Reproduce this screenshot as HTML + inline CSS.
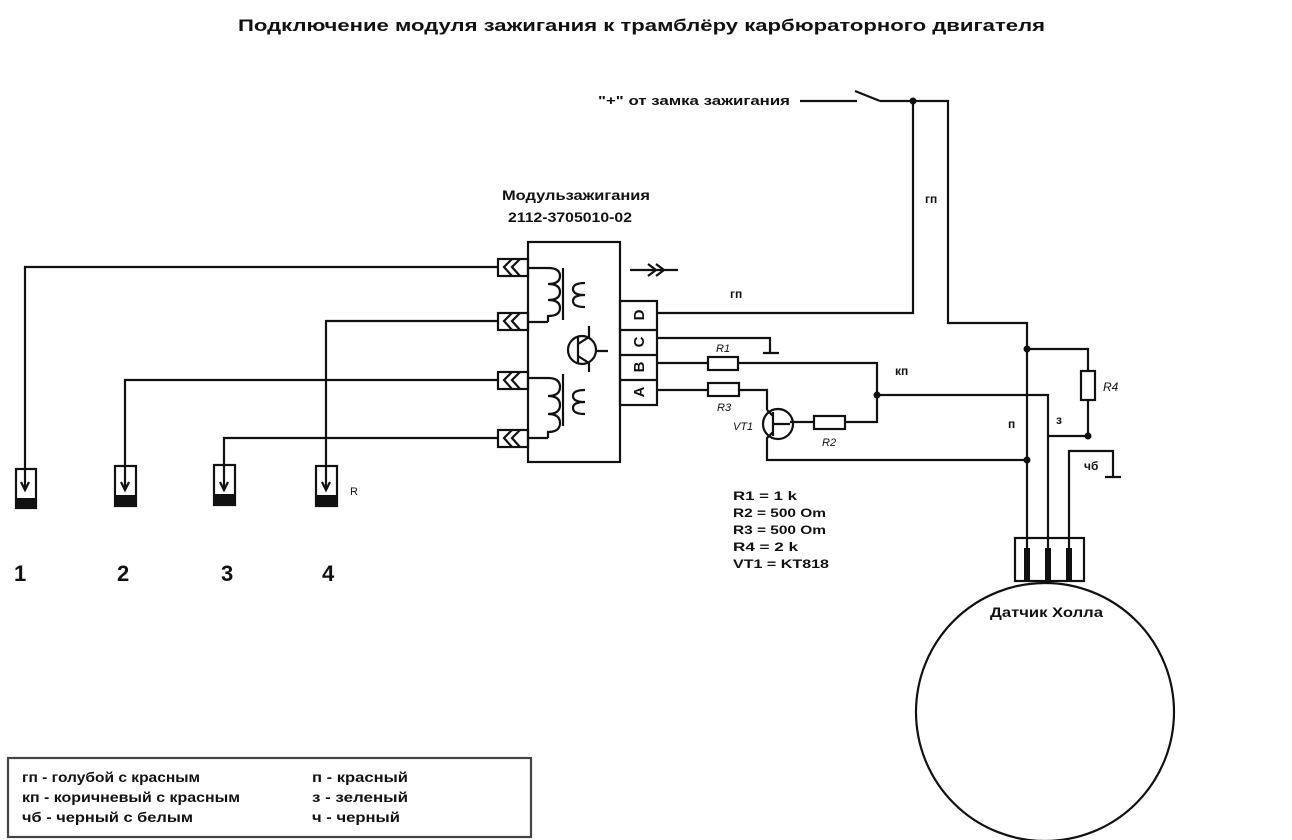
<!DOCTYPE html>
<html><head><meta charset="utf-8"><style>
html,body{margin:0;padding:0;background:#fff;}
svg{display:block;}
text{font-family:"Liberation Sans","DejaVu Sans",sans-serif;fill:#111;}
.b{font-weight:bold;}
</style></head><body>
<svg width="1292" height="840" viewBox="0 0 1292 840" xmlns="http://www.w3.org/2000/svg">
<g stroke="#111" stroke-width="2.2" fill="none">
<path d="M800 101H857 M855 91L880 101 M880 101H948V323H1027V580"/>
<path d="M913 101V313H657"/>
<rect x="528" y="242" width="92" height="220"/>
<rect x="620" y="301" width="37" height="104"/>
<path d="M620 330H657 M620 355H657 M620 380H657"/>
<rect x="498" y="259" width="30" height="17"/>
<rect x="498" y="313" width="30" height="17"/>
<rect x="498" y="372" width="30" height="17"/>
<rect x="498" y="430" width="30" height="17"/>
<path d="M512 259L504 267L512 276 M520 259L512 267L520 276"/>
<path d="M512 313L504 321L512 330 M520 313L512 321L520 330"/>
<path d="M512 372L504 380L512 389 M520 372L512 380L520 389"/>
<path d="M512 430L504 438L512 447 M520 430L512 438L520 447"/>
<path d="M528 268H548 M528 322H548"/>
<path d="M548 268 q12 0 12 8 q0 8 -12 8 q12 0 12 8 q0 8 -12 8 q12 0 12 8 q0 8 -12 8 V322"/>
<path d="M563 268V320 M563 374V426"/>
<path d="M585 283 q-12 0 -12 6 q0 6 12 6 q-12 0 -12 6 q0 6 12 6"/>
<path d="M528 378H548 M528 438H548"/>
<path d="M548 378 q12 0 12 9 q0 9 -12 9 q12 0 12 9 q0 9 -12 9 q12 0 12 9 q0 9 -12 9 V438"/>
<path d="M585 390 q-12 0 -12 6 q0 6 12 6 q-12 0 -12 6 q0 6 12 6"/>
<circle cx="582" cy="350" r="14"/>
<path d="M578 336V364 M578 344L589 337V326 M578 356L589 363V372 M596 351H608"/>
<path d="M630 270H678 M648 264L656 270L648 276 M656 264L664 270L656 276"/>
<path d="M657 338H770V352 M763 353H779"/>
<path d="M657 363H708 M738 363H877V422H845 M814 422H790"/>
<rect x="708" y="357" width="30" height="13"/>
<rect x="814" y="416" width="31" height="13"/>
<path d="M657 390H708 M739 390H767V410"/>
<rect x="708" y="383" width="31" height="13"/>
<circle cx="778" cy="424" r="15"/>
<path d="M773 412V436 M773 416L767 410 M773 432L767 438V460H1027 M773 424H790"/>
<path d="M877 395H1048V580"/>
<path d="M1027 349H1088V371 M1088 400V436H1048"/>
<rect x="1081" y="371" width="14" height="29"/>
<path d="M1069 580V451H1113V476 M1105 477H1121"/>
<rect x="1015" y="538" width="69" height="43"/>
<circle cx="1045" cy="712" r="129"/>
<path d="M498 267H25V490 M498 321H326V490 M498 380H125V490 M498 438H224V490"/>
<path d="M21 482L25 490L29 482 M121 482L125 490L129 482 M220 482L224 490L228 482 M322 482L326 490L330 482"/>
<rect x="16" y="469" width="20" height="39"/>
<rect x="115" y="466" width="21" height="40"/>
<rect x="214" y="465" width="21" height="40"/>
<rect x="316" y="466" width="21" height="40"/>
<rect x="8" y="758" width="523" height="79" stroke="#444"/>
</g>
<g fill="#111">
<rect x="16" y="498" width="20" height="10"/>
<rect x="115" y="495" width="21" height="11"/>
<rect x="214" y="494" width="21" height="11"/>
<rect x="316" y="495" width="21" height="11"/>
<rect x="1024" y="548" width="6" height="33"/>
<rect x="1045" y="548" width="6" height="33"/>
<rect x="1066" y="548" width="6" height="33"/>
<circle cx="913" cy="101" r="3.5"/>
<circle cx="877" cy="395" r="3.5"/>
<circle cx="1027" cy="349" r="3.5"/>
<circle cx="1027" cy="460" r="3.5"/>
<circle cx="1088" cy="436" r="3.5"/>
</g>
<text x="238" y="31" class="b" font-size="17" textLength="807" lengthAdjust="spacingAndGlyphs">Подключение модуля зажигания к трамблёру карбюраторного двигателя</text>
<text x="598" y="105" class="b" font-size="13" textLength="192" lengthAdjust="spacingAndGlyphs">"+" от замка зажигания</text>
<text x="502" y="200" class="b" font-size="14" textLength="148" lengthAdjust="spacingAndGlyphs">Модульзажигания</text>
<text x="508" y="222" class="b" font-size="14" textLength="124" lengthAdjust="spacingAndGlyphs">2112-3705010-02</text>
<text x="925" y="203" class="b" font-size="12">гп</text>
<text x="730" y="298" class="b" font-size="12">гп</text>
<text x="895" y="375" class="b" font-size="12">кп</text>
<text x="1008" y="428" class="b" font-size="12">п</text>
<text x="1056" y="424" class="b" font-size="12">з</text>
<text x="1084" y="470" class="b" font-size="12">чб</text>
<text x="1103" y="391" font-size="12" font-style="italic">R4</text>
<text x="716" y="352" font-size="11" font-style="italic">R1</text>
<text x="717" y="411" font-size="11" font-style="italic">R3</text>
<text x="733" y="430" font-size="11" font-style="italic">VT1</text>
<text x="822" y="446" font-size="11" font-style="italic">R2</text>
<text transform="translate(644 315) rotate(-90)" text-anchor="middle" class="b" font-size="15">D</text>
<text transform="translate(644 342) rotate(-90)" text-anchor="middle" class="b" font-size="15">C</text>
<text transform="translate(644 367) rotate(-90)" text-anchor="middle" class="b" font-size="15">B</text>
<text transform="translate(644 392) rotate(-90)" text-anchor="middle" class="b" font-size="15">A</text>
<text x="350" y="495" font-size="11">R</text>
<g class="b" font-size="22">
<text x="14" y="581">1</text><text x="117" y="581">2</text><text x="221" y="581">3</text><text x="322" y="581">4</text>
</g>
<g class="b" font-size="11.5">
<text x="733" y="500" textLength="64" lengthAdjust="spacingAndGlyphs">R1 = 1 k</text>
<text x="733" y="517" textLength="93" lengthAdjust="spacingAndGlyphs">R2 = 500 Om</text>
<text x="733" y="534" textLength="93" lengthAdjust="spacingAndGlyphs">R3 = 500 Om</text>
<text x="733" y="551" textLength="65" lengthAdjust="spacingAndGlyphs">R4 = 2 k</text>
<text x="733" y="568" textLength="96" lengthAdjust="spacingAndGlyphs">VT1 = KT818</text>
</g>
<text x="990" y="617" class="b" font-size="14" textLength="113" lengthAdjust="spacingAndGlyphs">Датчик Холла</text>
<g class="b" font-size="14" fill="#222">
<text x="22" y="782" textLength="178" lengthAdjust="spacingAndGlyphs">гп - голубой с красным</text>
<text x="22" y="802" textLength="218" lengthAdjust="spacingAndGlyphs">кп - коричневый с красным</text>
<text x="22" y="822" textLength="171" lengthAdjust="spacingAndGlyphs">чб - черный с белым</text>
<text x="312" y="782" textLength="96" lengthAdjust="spacingAndGlyphs">п - красный</text>
<text x="312" y="802" textLength="96" lengthAdjust="spacingAndGlyphs">з - зеленый</text>
<text x="312" y="822" textLength="88" lengthAdjust="spacingAndGlyphs">ч - черный</text>
</g>
</svg>
</body></html>
